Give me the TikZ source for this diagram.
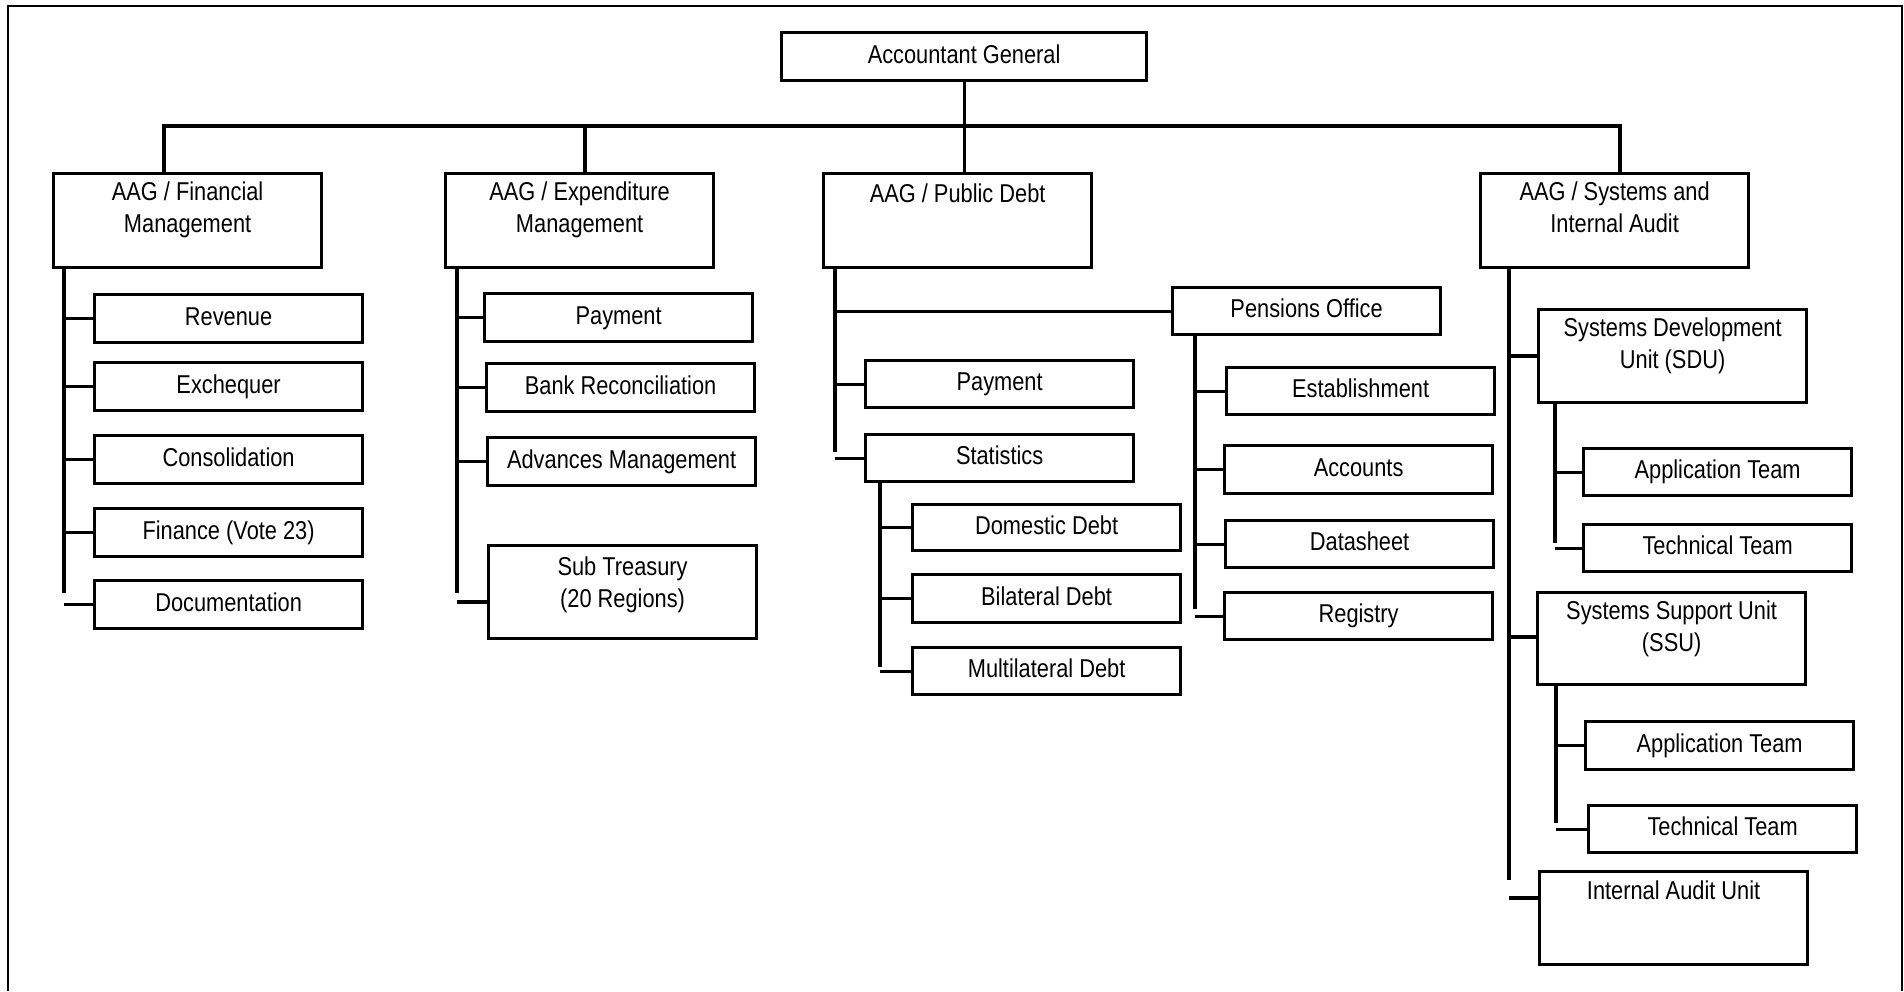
\documentclass[tikz,border=0pt]{standalone}
\usepackage{fontspec}
\newfontfamily\orgfont{Liberation Sans}[FakeStretch=0.845]
\newcommand\orgsize{\orgfont\fontsize{12.9pt}{16pt}\selectfont}

\begin{document}
\begin{tikzpicture}[
    x=0.5pt, y=-0.5pt,
    unit/.style={rectangle, draw=black, fill=white, line width=1.6pt,
                 inner sep=0pt, anchor=north west, font=\orgsize,
                 minimum width=134pt, minimum height=24pt,
                 text height=9.3pt, text depth=2.7pt},
    tall/.style={unit, minimum height=#1},
    headtext/.style={anchor=north, align=center, inner sep=0pt,
                yshift=-4.5pt, font=\orgsize},
    link/.style={line width=1.55pt, draw=black},
    frame/.style={line width=1pt, draw=black}
  ]
    \useasboundingbox (0,0) rectangle (1904,991);
    \draw[frame] (8,991) -- (8,6) -- (1902,6) -- (1902,991);

    % top level
    \node[unit, minimum width=182.5pt] (ag) at (780,31) {Accountant General};
    \node[tall=47pt, label={[headtext]north:{AAG / Financial\\Management}}] (fin) at (52,172) {};
    \node[tall=47pt, label={[headtext]north:{AAG / Expenditure\\Management}}] (exp) at (444,172) {};
    \node[tall=47pt, label={[headtext, yshift=-1pt]north:{AAG / Public Debt}}] (pd) at (822,172) {};
    \node[tall=47pt, label={[headtext]north:{AAG / Systems and\\Internal Audit}}] (sys) at (1479,172) {};

    % financial management
    \node[unit] (rev) at (93,293) {Revenue};
    \node[unit] (exq) at (93,361) {Exchequer};
    \node[unit] (con) at (93,434) {Consolidation};
    \node[unit] (fvt) at (93,507) {Finance (Vote 23)};
    \node[unit] (doc) at (93,579) {Documentation};

    % expenditure management
    \node[unit] (pay) at (483,292) {Payment};
    \node[unit] (bnk) at (485,362) {Bank Reconciliation};
    \node[unit] (adv) at (486,436) {Advances Management};
    \node[tall=46.5pt, label={[headtext, yshift=-1.5pt]north:{Sub Treasury\\(20 Regions)}}] (sub) at (487,544) {};

    % public debt
    \node[unit, minimum height=23.5pt] (pen) at (1171,286) {Pensions Office};
    \node[unit, minimum height=23.5pt] (pdpay) at (864,359) {Payment};
    \node[unit, minimum height=23.5pt] (stat) at (864,433) {Statistics};
    \node[unit, minimum height=23pt] (dom) at (911,503) {Domestic Debt};
    \node[unit] (bil) at (911,573) {Bilateral Debt};
    \node[unit, minimum height=23.5pt] (mul) at (911,646) {Multilateral Debt};
    \node[unit, minimum height=23.5pt] (est) at (1225,366) {Establishment};
    \node[unit] (acc) at (1223,444) {Accounts};
    \node[unit, minimum height=23.5pt] (dat) at (1224,519) {Datasheet};
    \node[unit, minimum height=23.5pt] (reg) at (1223,591) {Registry};

    % systems and internal audit
    \node[tall=46.5pt, label={[headtext]north:{Systems Development\\Unit (SDU)}}] (sdu) at (1537,308) {};
    \node[unit, minimum height=23.5pt] (app1) at (1582,447) {Application Team};
    \node[unit, minimum height=23.5pt] (tec1) at (1582,523) {Technical Team};
    \node[tall=46pt, label={[headtext]north:{Systems Support Unit\\(SSU)}}] (ssu) at (1536,591) {};
    \node[unit] (app2) at (1584,720) {Application Team};
    \node[unit, minimum height=23.5pt] (tec2) at (1587,804) {Technical Team};
    \node[tall=46.5pt, label={[headtext, yshift=-0.5pt]north:{Internal Audit Unit}}] (iau) at (1538,870) {};

    % bus and trunk ends
    \coordinate (busL) at (164,126);
    \coordinate (busR) at (1620,126);
    \coordinate (expTap) at (585,126);
    \coordinate (finEnd) at (64,593);
    \coordinate (expEnd) at (457,593);
    \coordinate (pdEnd) at (835,452);
    \coordinate (statEnd) at (880,667);
    \coordinate (penEnd) at (1195,609);
    \coordinate (sysEnd) at (1509,880);
    \coordinate (sduEnd) at (1555,543);
    \coordinate (ssuEnd) at (1556,823);
    \coordinate (subTap) at ([yshift=-29pt]sub.north west);
    \coordinate (sduTap) at ([yshift=-24pt]sdu.north west);
    \coordinate (ssuTap) at ([yshift=-23pt]ssu.north west);
    \coordinate (iauTap) at ([yshift=-14pt]iau.north west);

    \draw[link] (fin.north -| busL) -- (busL) -- (busR) -- (sys.north -| busR);
    \draw[link] (expTap) -- (exp.north -| expTap);
    \draw[link] (ag.south) -- (ag.south |- pd.north);

    % trunks
    \draw[link] (fin.south -| finEnd) -- (finEnd);
    \draw[link] (exp.south -| expEnd) -- (expEnd);
    \draw[link] (pd.south -| pdEnd) -- (pdEnd);
    \draw[link] (stat.south -| statEnd) -- (statEnd);
    \draw[link] (pen.south -| penEnd) -- (penEnd);
    \draw[link] (sys.south -| sysEnd) -- (sysEnd);
    \draw[link] (sdu.south -| sduEnd) -- (sduEnd);
    \draw[link] (ssu.south -| ssuEnd) -- (ssuEnd);

    % stubs
    \draw[link] (rev.west) -- (rev.west -| finEnd);
    \draw[link] (exq.west) -- (exq.west -| finEnd);
    \draw[link] (con.west) -- (con.west -| finEnd);
    \draw[link] (fvt.west) -- (fvt.west -| finEnd);
    \draw[link] (doc.west) -- (doc.west -| finEnd);
    \draw[link] (pay.west) -- (pay.west -| expEnd);
    \draw[link] (bnk.west) -- (bnk.west -| expEnd);
    \draw[link] (adv.west) -- (adv.west -| expEnd);
    \draw[link] (subTap) -- (subTap -| expEnd);
    \draw[link] (pen.west) -- (pen.west -| pdEnd);
    \draw[link] (pdpay.west) -- (pdpay.west -| pdEnd);
    \draw[link] (stat.west) -- (stat.west -| pdEnd);
    \draw[link] (dom.west) -- (dom.west -| statEnd);
    \draw[link] (bil.west) -- (bil.west -| statEnd);
    \draw[link] (mul.west) -- (mul.west -| statEnd);
    \draw[link] (est.west) -- (est.west -| penEnd);
    \draw[link] (acc.west) -- (acc.west -| penEnd);
    \draw[link] (dat.west) -- (dat.west -| penEnd);
    \draw[link] (reg.west) -- (reg.west -| penEnd);
    \draw[link] (sduTap) -- (sduTap -| sysEnd);
    \draw[link] (app1.west) -- (app1.west -| sduEnd);
    \draw[link] (tec1.west) -- (tec1.west -| sduEnd);
    \draw[link] (ssuTap) -- (ssuTap -| sysEnd);
    \draw[link] (app2.west) -- (app2.west -| ssuEnd);
    \draw[link] (tec2.west) -- (tec2.west -| ssuEnd);
    \draw[link] (iauTap) -- (iauTap -| sysEnd);
  \end{tikzpicture}
\end{document}
